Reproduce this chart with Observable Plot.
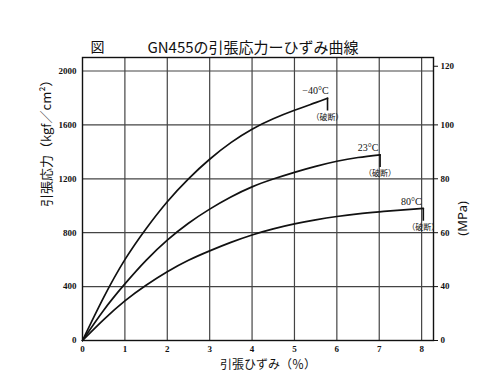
<!DOCTYPE html>
<html><head><meta charset="utf-8">
<script src="https://cdn.jsdelivr.net/npm/d3@7"></script>
<script src="https://cdn.jsdelivr.net/npm/@observablehq/plot@0.6"></script>
<style>body{margin:0;background:#fff;}</style>
</head><body><div id="chart"></div>
<script>
// Data
const strainM40 = [0, 0.5, 1, 1.5, 2, 2.5, 3, 3.5, 4, 4.5, 5, 5.5, 5.78];
const stressM40 = [0, 320, 600, 830, 1030, 1200, 1345, 1468, 1568, 1645, 1708, 1765, 1798];
const strain23 = [0, 0.5, 1, 1.5, 2, 2.5, 3, 3.5, 4, 4.5, 5, 5.5, 6, 6.5, 7.02];
const stress23 = [0, 225, 420, 595, 745, 870, 975, 1065, 1140, 1198, 1248, 1292, 1330, 1358, 1378];
const strain80 = [0, 0.5, 1, 1.5, 2, 2.5, 3, 3.5, 4, 4.5, 5, 5.5, 6, 6.5, 7, 7.5, 8.04];
const stress80 = [0, 155, 294, 410, 510, 595, 665, 728, 783, 828, 865, 895, 920, 940, 955, 968, 980];
const seriesNames = ["−40°C", "23°C", "80°C"];
const xTicks = [0, 1, 2, 3, 4, 5, 6, 7, 8];
const yTicks = [0, 400, 800, 1200, 1600, 2000];
const mpaTickLabels = [0, 40, 60, 80, 100, 120];
const mpaTickPositions = [0, 400, 800, 1200, 1600, 2035];
const breakLabel = "（破断）";

const series = [
  {name: seriesNames[0], xs: strainM40, ys: stressM40},
  {name: seriesNames[1], xs: strain23, ys: stress23},
  {name: seriesNames[2], xs: strain80, ys: stress80}
];
const pts = series.flatMap(s => s.xs.map((x, i) => ({series: s.name, x, y: s.ys[i]})));
const ends = series.map(s => ({series: s.name, x: s.xs[s.xs.length - 1], y: s.ys[s.ys.length - 1]}));
const mpaMap = new Map(mpaTickPositions.map((p, i) => [p, mpaTickLabels[i]]));

const serif = "'Liberation Serif', 'DejaVu Serif', serif";
const jp = "'Noto Sans CJK JP', sans-serif";

const chart = Plot.plot({
  width: 500, height: 389,
  marginLeft: 82, marginRight: 67, marginTop: 57, marginBottom: 49,
  x: {domain: [0, 8.28]},
  y: {domain: [0, 2100]},
  style: {background: "#fff", color: "#111", fontFamily: serif, fontSize: "9px"},
  marks: [
    Plot.gridX(xTicks.slice(1), {stroke: "#444", strokeOpacity: 1, strokeWidth: 1.2}),
    Plot.gridY(yTicks.slice(1), {stroke: "#444", strokeOpacity: 1, strokeWidth: 1.2}),
    Plot.frame({stroke: "#111", strokeWidth: 1.4}),
    Plot.axisX(xTicks, {tickSize: 0, tickPadding: 5, label: null, tickFormat: d => String(d), fontFamily: serif, fontSize: 9, fontWeight: "bold"}),
    Plot.axisY(yTicks, {tickSize: 0, tickPadding: 6, label: null, tickFormat: d => String(d), fontFamily: serif, fontSize: 9, fontWeight: "bold"}),
    Plot.axisY(mpaTickPositions, {anchor: "right", tickSize: 4, tickPadding: 3, label: null,
      tickFormat: d => String(mpaMap.get(d)), fontFamily: serif, fontSize: 9, fontWeight: "bold"}),
    Plot.line(pts, {x: "x", y: "y", z: "series", stroke: "#111", strokeWidth: 1.7, curve: "natural"}),
    Plot.ruleX(ends, {x: "x", y1: "y", y2: d => d.y - 95, stroke: "#111", strokeWidth: 1.6}),
    Plot.text(ends, {x: "x", y: "y", text: "series", dx: -12, dy: -7, fontFamily: serif, fontSize: 10}),
    Plot.text(ends, {x: "x", y: "y", text: () => breakLabel, dx: 0, dy: 19, fontFamily: jp, fontSize: 8}),
    // titles and axis labels
    Plot.text(["図"], {frameAnchor: "top-left", dx: 8, dy: -15, fontFamily: jp, fontSize: 14}),
    Plot.text(["GN455の引張応力ーひずみ曲線"], {frameAnchor: "top", dx: -5, dy: -15, fontFamily: jp, fontSize: 15}),
    Plot.text(["引張応力（kgf／cm²）"], {frameAnchor: "left", dx: -36, dy: 8, rotate: -90, fontFamily: jp, fontSize: 13}),
    Plot.text(["引張ひずみ（％）"], {frameAnchor: "bottom", dx: 10, dy: 28, fontFamily: jp, fontSize: 12}),
    Plot.text(["(MPa)"], {frameAnchor: "right", dx: 29, dy: 2, rotate: -90, fontFamily: "'Noto Sans', sans-serif", fontSize: 13})
  ]
});
document.getElementById("chart").appendChild(chart);
</script>
</body></html>
